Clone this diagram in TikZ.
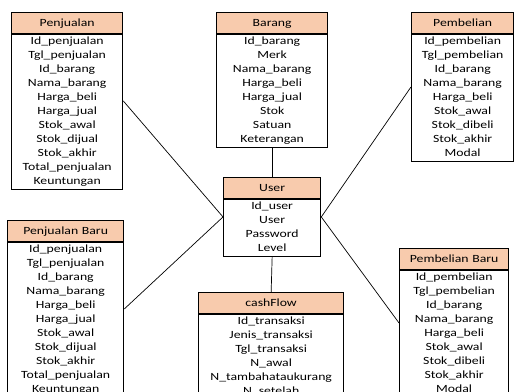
\documentclass[tikz,border=0pt]{standalone}
\usepackage{fontspec}
\setmainfont{Carlito}[FakeStretch=1.25]
\usetikzlibrary{shapes.multipart}
\definecolor{hdr}{HTML}{F8CBAD}
% struts for a row and for the header
\newcommand{\rs}{\rule[-4pt]{0pt}{14pt}}
\newcommand{\hs}{\rule[-7pt]{0pt}{20pt}}

\begin{document}
\begin{tikzpicture}[x=1pt,y=-1pt,
  entity/.style={rectangle split, rectangle split parts=2, draw, line width=1.3pt,
    rectangle split part fill={hdr,white}, inner xsep=0pt, inner ysep=0pt,
    align=center, anchor=north west, font=\fontsize{11}{14}\selectfont},
  link/.style={black, line width=0.7pt}]
\useasboundingbox (0,0) rectangle (516,391);
\clip (0,0) rectangle (516,391);

\node[entity, text width=111pt] (penjualan) at (11,12) {\hs Penjualan
  \nodepart{two}\rs Id\_penjualan\\ Tgl\_penjualan\\ Id\_barang\\ Nama\_barang\\ Harga\_beli\\
  Harga\_jual\\ Stok\_awal\\ Stok\_dijual\\ Stok\_akhir\\ Total\_penjualan\\ Keuntungan\rs};
\node[entity, text width=111pt] (barang) at (216,12) {\hs Barang
  \nodepart{two}\rs Id\_barang\\ Merk\\ Nama\_barang\\ Harga\_beli\\ Harga\_jual\\ Stok\\
  Satuan\\ Keterangan\rs};
\node[entity, text width=102pt] (pembelian) at (411,12) {\hs Pembelian
  \nodepart{two}\rs Id\_pembelian\\ Tgl\_pembelian\\ Id\_barang\\ Nama\_barang\\ Harga\_beli\\
  Stok\_awal\\ Stok\_dibeli\\ Stok\_akhir\\ Modal\rs};
\node[entity, text width=97pt] (user) at (223,177) {\hs User
  \nodepart{two}\rs Id\_user\\ User\\ Password\\ Level\rs};
\node[entity, text width=116pt] (penjualanbaru) at (7,220) {\hs Penjualan Baru
  \nodepart{two}\rs Id\_penjualan\\ Tgl\_penjualan\\ Id\_barang\\ Nama\_barang\\ Harga\_beli\\
  Harga\_jual\\ Stok\_awal\\ Stok\_dijual\\ Stok\_akhir\\ Total\_penjualan\\ Keuntungan\rs};
\node[entity, text width=145pt] (cashflow) at (198,292) {\hs cashFlow
  \nodepart{two}\rs Id\_transaksi\\ Jenis\_transaksi\\ Tgl\_transaksi\\ N\_awal\\
  N\_tambahataukurang\\ N\_setelah\rs};
\node[entity, text width=109pt] (pembelianbaru) at (399,248) {\hs Pembelian Baru
  \nodepart{two}\rs Id\_pembelian\\ Tgl\_pembelian\\ Id\_barang\\ Nama\_barang\\ Harga\_beli\\
  Stok\_awal\\ Stok\_dibeli\\ Stok\_akhir\\ Modal\rs};

\draw[link] (penjualan.east) -- (user.west);
\draw[link] (penjualanbaru.east) -- (user.west);
\draw[link] (barang.south) -- (user.north);
\draw[link] (pembelian.west) -- (user.east);
\draw[link] (pembelianbaru.west) -- (user.east);
\draw[link] (user.south) -- (cashflow.north);
\end{tikzpicture}
\end{document}
